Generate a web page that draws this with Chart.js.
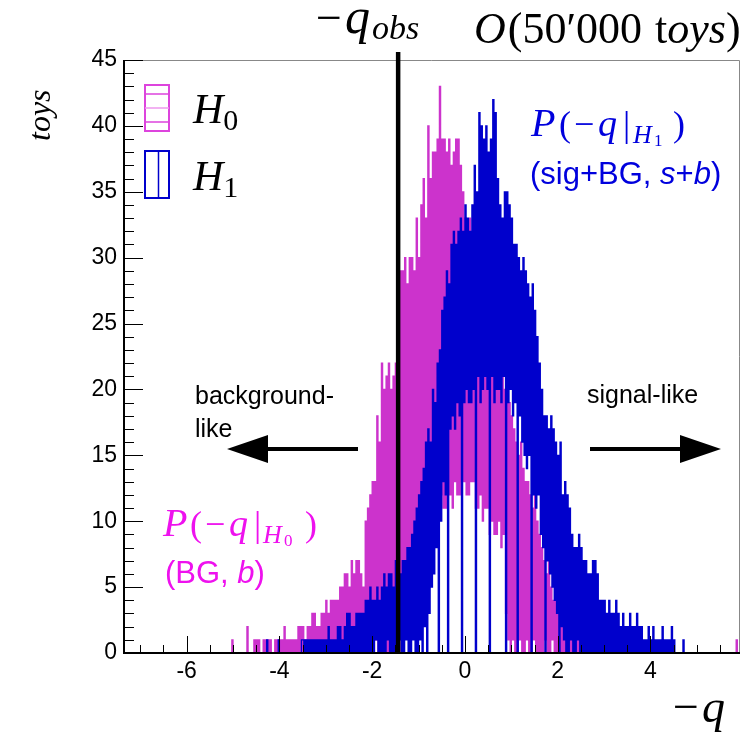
<!DOCTYPE html>
<html>
<head>
<meta charset="utf-8">
<script src="https://cdn.jsdelivr.net/npm/chart.js@4.4.1/dist/chart.umd.min.js"></script>
<style>
  html, body { margin: 0; padding: 0; background: #fff; }
  #wrap { width: 756px; height: 733px; }
</style>
</head>
<body>
<div id="wrap"><canvas id="toyChart" width="756" height="733"></canvas></div>
<script>
// toy MC distributions of the test statistic, fine binning
const binWidth = 0.025;

// H0 (background only), first bin starts at h0Start
const h0Start = -5.05;
const h0Counts = [
  0,1,0,0, 0,0,0,0, 0,0,0,0, 0,0,2,0, 0,0,0,0, 1,0,1,0, 1,0,0,0, 1,0,1,0,
  1,0,1,0, 0,0,1,0, 1,0,1,0, 1,0,2,0, 1,0,1,0, 1,0,1,0, 1,0,2,0, 2,0,2,1,
  1,0,2,0, 2,0,3,1, 3,0,2,0, 2,1,3,0, 3,0,4,1, 3,0,4,0, 4,1,4,0, 4,0,5,1,
  5,0,6,0, 6,1,5,0, 7,0,6,1, 7,0,7,0, 6,1,5,0, 10,0,11,1, 12,0,13,0, 13,1,18,0,
  16,0,22,1, 20,0,21,0, 22,1,20,0, 21,0,22,1, 22,2,29,0, 29,3,30,2, 28,4,30,3, 30,8,29,7,
  33,8,30,9, 34,9,36,8, 33,10,40,9, 36,9,38,11, 38,11,39,10, 43,12,39,11, 39,11,38,12, 39,12,37,11,
  38,13,39,12, 39,12,37,13, 35,13,33,12, 32,12,33,13, 30,13,31,11, 30,11,29,12, 28,10,29,11, 27,11,26,9,
  25,10,26,9, 23,9,24,10, 22,8,21,9, 20,3,19,1, 19,0,18,1, 17,0,16,0, 15,1,16,0, 14,0,13,1,
  13,0,12,0, 11,1,12,0, 10,0,9,0, 8,0,7,1, 6,0,7,0, 5,1,4,0, 5,0,4,0, 3,0,2,0,
  2,0,2,0, 2,0,1,0, 1,0,1,0, 1,0,1,0, 1,0,1,0
];
// isolated H0 entries far in the tail: [bin centre, count]
const h0Extra = [[5.86, 1]];

// H1 (signal + background), first bin starts at h1Start
const h1Start = -4.30;
const h1Counts = [
  0,1,0,0, 0,0,0,0, 0,0,0,1, 0,0,0,0, 0,0,0,0, 0,0,0,0, 0,0,0,0, 0,0,0,1,
  1,0,1,0, 1,0,1,0, 1,0,1,0, 1,0,1,0, 1,0,1,0, 1,0,2,0, 1,0,1,0, 1,0,2,0,
  2,0,1,0, 2,0,3,0, 3,0,2,0, 2,0,3,0, 3,0,3,0, 3,0,4,0, 4,0,5,0, 4,0,4,1,
  5,0,4,0, 5,0,6,0, 5,1,6,0, 6,0,5,0, 7,0,6,1, 6,0,7,0, 7,1,8,0, 8,0,9,1,
  10,0,11,0, 12,1,13,0, 14,2,16,0, 17,3,16,5, 20,6,19,8, 22,0,23,10, 26,13,27,12, 29,0,28,17,
  31,18,32,17, 31,19,32,18, 33,0,32,19, 34,20,33,19, 32,19,34,20, 37,0,35,21, 41,19,40,20, 39,21,40,20,
  38,0,39,21, 42,19,41,20, 36,20,34,19, 33,21,35,0, 35,19,34,20, 33,18,31,19, 31,0,30,18, 29,16,30,15,
  29,14,28,15, 27,0,28,12, 26,11,24,12, 22,9,20,8, 18,0,18,7, 17,6,18,5, 17,4,16,3, 15,0,16,2,
  12,1,13,0, 12,0,11,1, 9,0,8,0, 8,1,9,0, 8,0,7,0, 7,0,6,0, 6,0,7,0, 7,0,6,0,
  4,0,4,0, 4,0,3,0, 4,0,3,0, 3,0,4,0, 3,0,2,0, 3,0,2,0, 2,0,3,0, 2,0,2,0,
  3,0,2,0, 2,0,1,0, 1,0,2,0, 1,0,2,0, 1,0,1,0, 1,0,2,0, 1,0,1,0, 1,0,2,0,
  1,0,0,0, 0,0,0,0, 1,0
];

const xTicks = [-6, -4, -2, 0, 2, 4];
const yTicks = [0, 5, 10, 15, 20, 25, 30, 35, 40, 45];
const qObs = -1.44;

const SERIF = "'Liberation Serif', 'DejaVu Serif', serif";
const SANS = "'Liberation Sans', Arial, sans-serif";
const MAGENTA = '#cc33cc';
const BLUE = '#0000cc';

// histogram outline points at bin centres, closed to zero on both ends
function histPoints(start, counts, extra) {
  const pts = [{ x: start - binWidth / 2, y: 0 }];
  counts.forEach((c, i) => pts.push({ x: start + (i + 0.5) * binWidth, y: c }));
  pts.push({ x: start + (counts.length + 0.5) * binWidth, y: 0 });
  (extra || []).forEach(([x, c]) => {
    pts.push({ x: x - binWidth, y: 0 }, { x: x, y: c }, { x: x + binWidth, y: 0 });
  });
  return pts;
}

// draws a row of text pieces one after another
function textRow(ctx, x, y, parts, color) {
  ctx.fillStyle = color;
  ctx.textBaseline = 'alphabetic';
  ctx.textAlign = 'left';
  let cx = x;
  parts.forEach(p => {
    ctx.font = p.font;
    if (p.at !== undefined) cx = x + p.at;
    ctx.fillText(p.t, cx, y + (p.dy || 0));
    cx += ctx.measureText(p.t).width + (p.gap || 0);
  });
}

function arrow(ctx, x0, x1, y) {
  const dir = Math.sign(x1 - x0);
  const headLen = 41, headHalf = 14;
  ctx.strokeStyle = '#000';
  ctx.fillStyle = '#000';
  ctx.lineWidth = 4;
  ctx.beginPath();
  ctx.moveTo(x0, y);
  ctx.lineTo(x1 - dir * headLen, y);
  ctx.stroke();
  ctx.beginPath();
  ctx.moveTo(x1, y);
  ctx.lineTo(x1 - dir * headLen, y - headHalf);
  ctx.lineTo(x1 - dir * headLen, y + headHalf);
  ctx.closePath();
  ctx.fill();
}

const decorations = {
  id: 'decorations',
  afterDraw(chart) {
    const ctx = chart.ctx;
    const a = chart.chartArea;
    const xs = chart.scales.x, ys = chart.scales.y;
    ctx.save();

    // frame: thin grey top/right, black axes
    ctx.strokeStyle = '#888';
    ctx.lineWidth = 1;
    ctx.beginPath();
    ctx.moveTo(a.left, a.top + 0.5); ctx.lineTo(a.right - 0.5, a.top + 0.5);
    ctx.lineTo(a.right - 0.5, a.bottom);
    ctx.stroke();

    // tick marks pointing into the frame
    ctx.strokeStyle = '#000';
    ctx.lineWidth = 1;
    ctx.beginPath();
    for (let k = -14; k <= 11; k++) {
      const v = k / 2;
      const px = Math.round(xs.getPixelForValue(v)) + 0.5;
      const len = xTicks.includes(v) ? 17 : 8;
      ctx.moveTo(px, a.bottom); ctx.lineTo(px, a.bottom - len);
    }
    for (let v = 0; v <= 45; v++) {
      const py = Math.round(ys.getPixelForValue(v)) + 0.5;
      const len = yTicks.includes(v) ? 19 : 10;
      ctx.moveTo(a.left, py); ctx.lineTo(a.left + len, py);
    }
    ctx.stroke();

    ctx.lineWidth = 2;
    ctx.beginPath();
    ctx.moveTo(a.left, a.top); ctx.lineTo(a.left, a.bottom);
    ctx.lineTo(a.right, a.bottom);
    ctx.stroke();

    // observed value
    const xo = xs.getPixelForValue(qObs);
    ctx.lineWidth = 4.5;
    ctx.beginPath();
    ctx.moveTo(xo, a.top - 8); ctx.lineTo(xo, a.bottom);
    ctx.stroke();

    // headings
    textRow(ctx, 316, 33, [
      { t: '\u2212', font: `46px ${SERIF}`, gap: 3 },
      { t: 'q', font: `italic 50px ${SERIF}`, gap: 2 },
      { t: 'obs', font: `italic 34px ${SERIF}`, dy: 6 }
    ], '#000');
    textRow(ctx, 474, 43, [
      { t: 'O', font: `italic 44px ${SERIF}`, gap: 2 },
      { t: '(50\u2032000 ', font: `44px ${SERIF}`, gap: 2 },
      { t: 't', font: `44px ${SERIF}` },
      { t: 'oys', font: `italic 44px ${SERIF}` },
      { t: ')', font: `44px ${SERIF}` }
    ], '#000');

    // axis titles
    ctx.save();
    ctx.translate(50, 141);
    ctx.rotate(-Math.PI / 2);
    textRow(ctx, 0, 0, [{ t: 'toys', font: `italic 32px ${SERIF}` }], '#000');
    ctx.restore();
    textRow(ctx, 673, 722, [
      { t: '\u2212', font: `46px ${SERIF}`, gap: 3 },
      { t: 'q', font: `italic 46px ${SERIF}` }
    ], '#000');

    // legend boxes
    ctx.lineWidth = 2;
    ctx.strokeStyle = '#dd44dd';
    ctx.strokeRect(145, 85, 24, 46);
    ctx.lineWidth = 1.5;
    ctx.beginPath();
    [94, 122].forEach(y => { ctx.moveTo(145, y); ctx.lineTo(169, y); });
    ctx.stroke();
    ctx.strokeStyle = '#ee99ee';
    ctx.beginPath();
    ctx.moveTo(145, 108); ctx.lineTo(169, 108);
    ctx.stroke();
    ctx.lineWidth = 2;
    ctx.strokeStyle = BLUE;
    ctx.strokeRect(145, 151, 24, 47);
    ctx.lineWidth = 1.5;
    ctx.beginPath();
    ctx.moveTo(158.5, 151); ctx.lineTo(158.5, 198);
    ctx.stroke();
    textRow(ctx, 193, 123, [
      { t: 'H', font: `italic 42px ${SERIF}` },
      { t: '0', font: `30px ${SERIF}`, dy: 7 }
    ], '#000');
    textRow(ctx, 193, 190, [
      { t: 'H', font: `italic 42px ${SERIF}` },
      { t: '1', font: `30px ${SERIF}`, dy: 7 }
    ], '#000');

    // distribution labels
    textRow(ctx, 531, 136, [
      { t: 'P', font: `italic 40px ${SERIF}`, at: 0 },
      { t: '(', font: `36px ${SERIF}`, at: 28 },
      { t: '\u2212', font: `36px ${SERIF}`, at: 43 },
      { t: 'q', font: `italic 38px ${SERIF}`, at: 67 },
      { t: '|', font: `36px ${SERIF}`, at: 92 },
      { t: 'H', font: `italic 26px ${SERIF}`, at: 102, dy: 7 },
      { t: '1', font: `17px ${SERIF}`, at: 123, dy: 10 },
      { t: ')', font: `36px ${SERIF}`, at: 142 }
    ], '#0000dd');
    textRow(ctx, 530, 184, [
      { t: '(sig+BG, ', font: `31px ${SANS}` },
      { t: 's', font: `italic 31px ${SANS}` },
      { t: '+', font: `31px ${SANS}` },
      { t: 'b', font: `italic 31px ${SANS}` },
      { t: ')', font: `31px ${SANS}` }
    ], '#0000dd');
    textRow(ctx, 163, 536, [
      { t: 'P', font: `italic 40px ${SERIF}`, at: 0 },
      { t: '(', font: `36px ${SERIF}`, at: 27 },
      { t: '\u2212', font: `36px ${SERIF}`, at: 42 },
      { t: 'q', font: `italic 38px ${SERIF}`, at: 66 },
      { t: '|', font: `36px ${SERIF}`, at: 91 },
      { t: 'H', font: `italic 26px ${SERIF}`, at: 100, dy: 7 },
      { t: '0', font: `17px ${SERIF}`, at: 121, dy: 10 },
      { t: ')', font: `36px ${SERIF}`, at: 142 }
    ], '#ee11ee');
    textRow(ctx, 165, 583, [
      { t: '(BG, ', font: `31px ${SANS}` },
      { t: 'b', font: `italic 31px ${SANS}` },
      { t: ')', font: `31px ${SANS}` }
    ], '#ee11ee');

    // direction hints
    textRow(ctx, 195, 404, [{ t: 'background-', font: `25px ${SANS}` }], '#000');
    textRow(ctx, 195, 437, [{ t: 'like', font: `25px ${SANS}` }], '#000');
    textRow(ctx, 587, 403, [{ t: 'signal-like', font: `25px ${SANS}` }], '#000');
    arrow(ctx, 358, 227, 449);
    arrow(ctx, 590, 721, 449);

    ctx.restore();
  }
};

const tickFont = { family: SANS, size: 23 };

new Chart(document.getElementById('toyChart'), {
  type: 'line',
  data: {
    datasets: [
      {
        label: 'H1',
        data: histPoints(h1Start, h1Counts),
        borderColor: BLUE,
        borderWidth: 1.3,
        stepped: 'middle',
        pointRadius: 0,
        fill: false,
        order: 0
      },
      {
        label: 'H0',
        data: histPoints(h0Start, h0Counts, h0Extra),
        borderColor: MAGENTA,
        borderWidth: 1.3,
        stepped: 'middle',
        pointRadius: 0,
        fill: false,
        order: 1
      }
    ]
  },
  options: {
    responsive: false,
    animation: false,
    events: [],
    layout: { padding: { left: 0, right: 16, top: 60, bottom: 0 } },
    plugins: { legend: { display: false }, tooltip: { enabled: false } },
    scales: {
      x: {
        type: 'linear',
        min: -7.35,
        max: 5.93,
        grid: { display: false, drawTicks: false },
        border: { display: false },
        afterBuildTicks: s => { s.ticks = xTicks.map(v => ({ value: v })); },
        afterFit: s => { s.height = 80; },
        ticks: { font: tickFont, color: '#000', padding: 5, maxRotation: 0, autoSkip: false }
      },
      y: {
        type: 'linear',
        min: 0,
        max: 45,
        grid: { display: false, drawTicks: false },
        border: { display: false },
        afterBuildTicks: s => { s.ticks = yTicks.map(v => ({ value: v })); },
        afterFit: s => { s.width = 124; },
        ticks: { font: tickFont, color: '#000', padding: 7, autoSkip: false }
      }
    }
  },
  plugins: [decorations]
});
</script>
</body>
</html>
